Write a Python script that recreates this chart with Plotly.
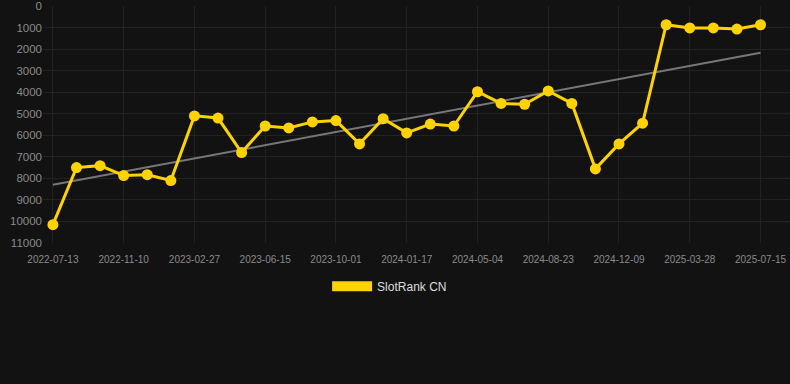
import numpy as np
import plotly.graph_objects as go

dates = ["2022-07-13", "2022-08-22", "2022-10-01", "2022-11-10", "2022-12-16", "2023-01-21",
         "2023-02-27", "2023-04-04", "2023-05-10", "2023-06-15", "2023-07-21", "2023-08-26",
         "2023-10-01", "2023-11-06", "2023-12-12", "2024-01-17", "2024-02-22", "2024-03-29",
         "2024-05-04", "2024-06-10", "2024-07-17", "2024-08-23", "2024-09-28", "2024-11-03",
         "2024-12-09", "2025-01-14", "2025-02-20", "2025-03-28", "2025-05-03", "2025-06-08",
         "2025-07-15"]
ranks = [10150, 7500, 7410, 7870, 7830, 8100, 5100, 5200, 6800, 5570, 5660, 5380, 5320,
         6400, 5230, 5890, 5480, 5570, 3980, 4520, 4560, 3940, 4520, 7560, 6400, 5440,
         870, 1020, 1020, 1070, 870]
tick_labels = dates[::3]
y_ticks = list(range(0, 11001, 1000))
y_tick_labels = [str(v) for v in y_ticks]
series_name = "SlotRank CN"

idx = np.arange(len(ranks))
slope, intercept = np.polyfit(idx, ranks, 1)
trend = slope * idx + intercept

YELLOW = "#FFD200"
BG = "#121212"
GRID = "#222222"
TICK = "#8a8a8a"

fig = go.Figure()
fig.add_trace(go.Scatter(x=dates, y=trend, mode="lines",
                         line=dict(color="#777777", width=2),
                         showlegend=False, hoverinfo="skip"))
fig.add_trace(go.Scatter(x=dates, y=ranks, mode="lines+markers",
                         line=dict(color=YELLOW, width=3),
                         marker=dict(color=YELLOW, size=11),
                         showlegend=False, name=series_name))
fig.add_trace(go.Scatter(x=[None], y=[None], mode="lines",
                         line=dict(color=YELLOW, width=11),
                         name=series_name, showlegend=True))

fig.update_layout(
    width=790, height=384,
    paper_bgcolor=BG, plot_bgcolor=BG,
    margin=dict(l=43, r=0, t=6, b=141),
    font=dict(family="Liberation Sans, Arial, sans-serif", color=TICK),
    xaxis=dict(type="category", range=[-0.42, 31.25],
               tickmode="array", tickvals=tick_labels, ticktext=tick_labels,
               tickfont=dict(size=10, color=TICK), ticklabelstandoff=9,
               showgrid=True, gridcolor=GRID, gridwidth=1,
               zeroline=False, showline=False, ticks="", ticklen=0),
    yaxis=dict(range=[11000, 0], tickmode="array", tickvals=y_ticks, ticktext=y_tick_labels,
               tickfont=dict(size=11.5, color=TICK),
               showgrid=True, gridcolor=GRID, gridwidth=1,
               zeroline=False, showline=False, ticks="", ticklen=0),
    legend=dict(orientation="h", x=0.464, xanchor="center", y=-0.121, yanchor="top",
                font=dict(size=12, color="#dddddd"), itemwidth=40,
                bgcolor="rgba(0,0,0,0)"),
)

fig.write_html("out.html", config={"displayModeBar": False})
with open("out.html", "r", encoding="utf-8") as f:
    html = f.read()
html = html.replace("<head>", "<head><style>html,body{margin:0;padding:0;background:#121212;overflow:hidden}</style>", 1)
with open("out.html", "w", encoding="utf-8") as f:
    f.write(html)
